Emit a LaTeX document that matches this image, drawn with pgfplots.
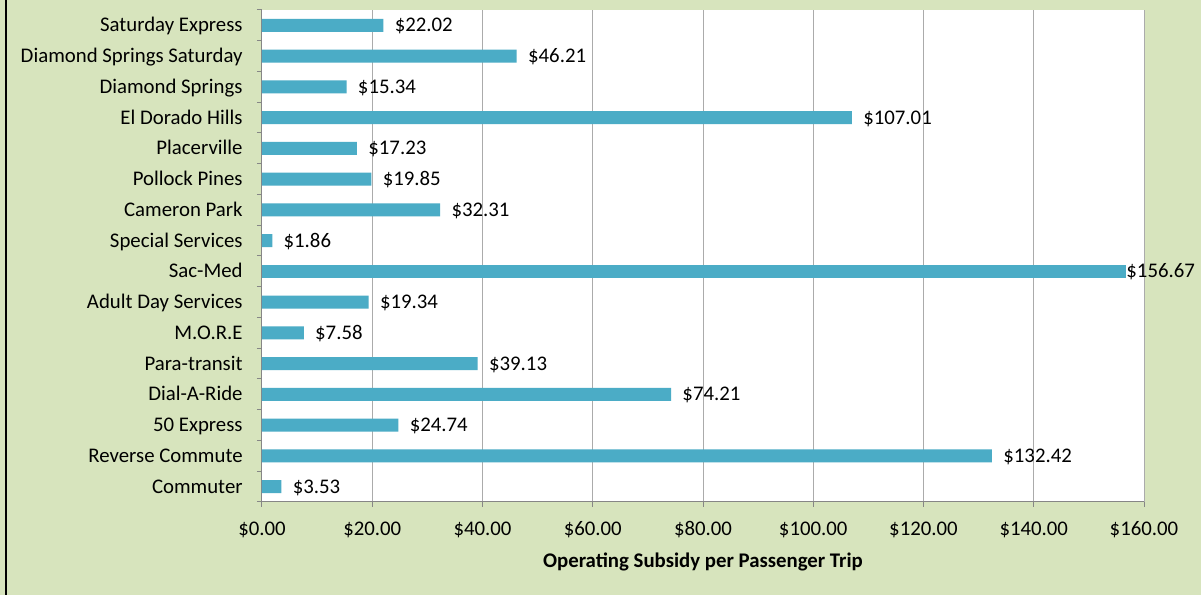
\documentclass[border=0pt]{standalone}
\usepackage{fontspec}
\setmainfont{Carlito}
\usepackage{pgfplots}
\pgfplotsset{compat=1.18}
\definecolor{bgc}{HTML}{D7E4BD}
\definecolor{barc}{HTML}{4BACC6}
\definecolor{gridc}{HTML}{ABABAB}
\definecolor{axc}{HTML}{868686}
\begin{document}
\fontsize{10.4pt}{12.5pt}\selectfont
\begin{tikzpicture}
\fill[bgc] (0,0) rectangle (600.5pt,297.5pt);
\draw[black, line width=1pt] (3pt,0) -- (3pt,297.5pt);
\begin{axis}[
  at={(131pt,46.5pt)}, anchor=south west,
  scale only axis, width=441pt, height=246pt,
  xbar, bar width=6.6pt, bar shift=0pt,
  xmin=0, xmax=160, ymin=-0.5, ymax=15.5,
  axis background/.style={fill=white},
  axis x line*=bottom, axis y line*=left,
  axis line style={axc, line width=0.5pt, -},
  tick align=outside, major tick length=2.5pt,
  tick style={axc, line width=0.5pt},
  xtick={0,20,...,160},
  xticklabels={\$0.00,\$20.00,\$40.00,\$60.00,\$80.00,\$100.00,\$120.00,\$140.00,\$160.00},
  xmajorgrids, major grid style={gridc, line width=0.5pt},
  xticklabel style={anchor=base, inner sep=0pt, yshift=-14.5pt},
  ytick={-0.5,0.5,...,15.5}, yticklabels={},
  extra y ticks={0,1,...,15},
  extra y tick labels={Commuter,Reverse Commute,50 Express,Dial-A-Ride,Para-transit,M.O.R.E,Adult Day Services,Sac-Med,Special Services,Cameron Park,Pollock Pines,Placerville,El Dorado Hills,Diamond Springs,Diamond Springs Saturday,Saturday Express},
  extra y tick style={major tick length=0pt, grid=none},
  yticklabel style={anchor=base east, inner sep=0pt, xshift=-9.5pt, yshift=-3.2pt},
  xlabel={\bfseries Operating Subsidy per Passenger Trip},
  xlabel style={at={(axis description cs:0.5,0)}, anchor=base, inner sep=0pt, yshift=-33pt},
  clip=false,
]
\addplot[fill=barc, draw=none, point meta=explicit symbolic, nodes near coords,
  nodes near coords style={anchor=base west, inner sep=0pt, xshift=5.5pt, yshift=-3.2pt, black}]
  coordinates {
  (3.53,0) [\$3.53]
  (132.42,1) [\$132.42]
  (24.74,2) [\$24.74]
  (74.21,3) [\$74.21]
  (39.13,4) [\$39.13]
  (7.58,5) [\$7.58]
  (19.34,6) [\$19.34]
  (1.86,8) [\$1.86]
  (32.31,9) [\$32.31]
  (19.85,10) [\$19.85]
  (17.23,11) [\$17.23]
  (107.01,12) [\$107.01]
  (15.34,13) [\$15.34]
  (46.21,14) [\$46.21]
  (22.02,15) [\$22.02]
  };
\addplot[fill=barc, draw=none, point meta=explicit symbolic, nodes near coords,
  nodes near coords style={anchor=base west, inner sep=0pt, xshift=0.2pt, yshift=-3.2pt, black}]
  coordinates {(156.67,7) [\$156.67]};
\end{axis}
\pgfresetboundingbox
\path (0,0) rectangle (600.5pt,297.5pt);
\end{tikzpicture}
\end{document}
